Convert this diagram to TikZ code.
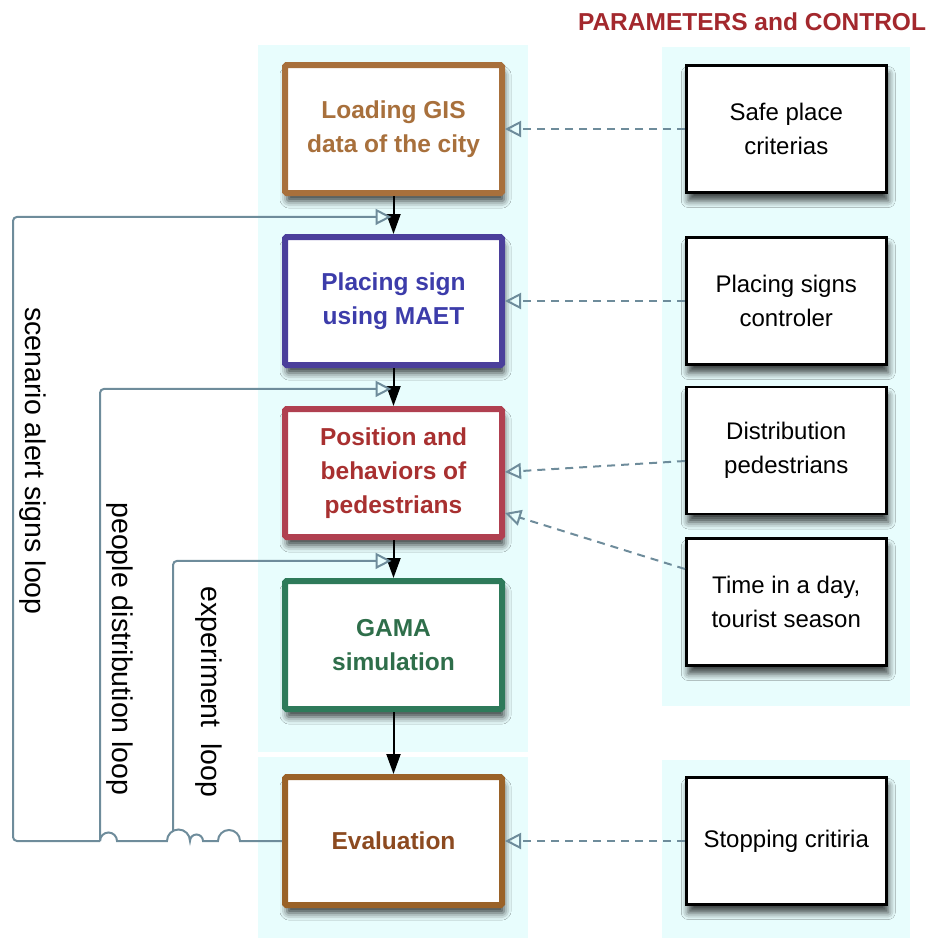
\documentclass[tikz,border=0pt]{standalone}
\usepackage{fontspec}
\setmainfont{Liberation Sans}
\usetikzlibrary{arrows.meta,positioning,calc,shadows.blur}
\definecolor{cload}{RGB}{168,112,60}
\definecolor{csign}{RGB}{75,63,155}
\definecolor{tsign}{RGB}{60,60,170}
\definecolor{cpos}{RGB}{176,64,80}
\definecolor{tpos}{RGB}{168,48,48}
\definecolor{cgama}{RGB}{46,122,90}
\definecolor{tgama}{RGB}{46,110,74}
\definecolor{ceval}{RGB}{154,98,40}
\definecolor{teval}{RGB}{140,74,32}
\definecolor{cline}{RGB}{110,140,155}
\definecolor{cpanel}{RGB}{232,253,253}
\definecolor{ctitle}{RGB}{163,40,45}
\tikzset{%
    >={Triangle[length=20pt,width=14pt]},
    every node/.style={font=\fontsize{24}{34}\selectfont,align=center},
    shd/.style={blur shadow={shadow xshift=2pt,shadow yshift=-8pt,shadow blur radius=7pt,shadow opacity=75}},
    mainbox/.style={rectangle,rounded corners=1.5pt,line width=6pt,fill=white,shd,
        minimum width=217pt,minimum height=128pt,inner sep=0pt,
        font=\fontsize{24.5}{34}\selectfont\bfseries},
    parbox/.style={rectangle,line width=2.5pt,draw=black,fill=white,shd,
        minimum width=200pt,minimum height=127pt,inner sep=0pt},
    panel/.style={fill=cpanel},
    param/.style={cline,line width=2pt,dash pattern=on 8pt off 6pt,-{Triangle[open,length=16pt,width=16pt]}},
    lp/.style={cline,line width=2pt,-{Triangle[open,length=16pt,width=16pt]}},
    hop/.style={cline,line width=2pt},
    lbl/.style={rotate=-90,font=\fontsize{28.5}{34}\selectfont},
    rc/.style={rounded corners=4pt}
}

\begin{document}
\begin{tikzpicture}[x=1pt,y=1pt,node distance=38pt]
    \useasboundingbox (0,0) rectangle (931,-940);
    %%%%% panels
    \fill[panel] (258,-45) rectangle (528,-752);
    \fill[panel] (258,-757) rectangle (528,-938);
    \fill[panel] (662,-47) rectangle (910,-706);
    \fill[panel] (662,-760) rectangle (910,-938);
    \node [font=\fontsize{24.5}{28}\selectfont\bfseries,text=ctitle] (title) at (752,-22) {PARAMETERS and CONTROL};
    %%%%% main chain
    \node [mainbox,draw=cload,text=cload] (load) at (393.5,-129) {Loading GIS\\data of the city};
    \node [mainbox,draw=csign,text=tsign,below= of load] (sign) {Placing sign\\using MAET};
    \node [mainbox,draw=cpos,text=tpos,below= of sign] (pos) {Position and\\behaviors of\\pedestrians};
    \node [mainbox,draw=cgama,text=tgama,below= of pos] (gama) {GAMA\\simulation};
    \node [mainbox,draw=ceval,text=teval,below=62pt of gama] (eval) {Evaluation};
    %%%%% parameters and control
    \node [parbox,right=180pt of load] (safe) {Safe place\\criterias};
    \node [parbox,right=180pt of sign] (signctl) {Placing signs\\controler};
    \node [parbox,below=20pt of signctl] (dist) {Distribution\\pedestrians};
    \node [parbox,below=22pt of dist] (time) {Time in a day,\\tourist season};
    \node [parbox,right=180pt of eval] (stop) {Stopping critiria};
    %%%%% flow
    \draw[->,line width=2pt] (load) -- (sign);
    \draw[->,line width=2pt] (sign) -- (pos);
    \draw[->,line width=2pt] (pos) -- (gama);
    \draw[->,line width=2pt] (gama) -- (eval);
    \draw[param] (safe) -- (load);
    \draw[param] (signctl) -- (sign);
    \draw[param] ([yshift=-10.5pt]dist.west) -- ([yshift=1pt]pos.east);
    \draw[param] ([yshift=33pt]time.west) -- ([yshift=-40pt]pos.east);
    \draw[param] (stop) -- (eval);
    %%%%% loops
    \coordinate (j1) at ($(load.south)!.55!(sign.north)$);
    \coordinate (j2) at ($(sign.south)!.55!(pos.north)$);
    \coordinate (j3) at ($(pos.south)!.55!(gama.north)$);
    \coordinate (hp) at ($(eval.west)+(-182,0)$);
    \draw[hop] (eval.west) -- ++(-42,0) arc[start angle=0,end angle=180,radius=11]
        -- ++(-15,0) arc[start angle=0,end angle=180,radius=6.5]
        arc[start angle=0,end angle=180,radius=11.5]
        -- ++(-50,0) arc[start angle=0,end angle=180,radius=8.5];
    \draw[lp,rc] (hp) -- ++(-87,0) |- ([xshift=-2pt]j1);
    \draw[lp,rc] (hp) |- ([xshift=-2pt]j2);
    \draw[lp,rc] ($(hp)+(73,10)$) |- ([xshift=-2pt]j3);
    \node [lbl] (l-sc) at (33,-461) {scenario alert signs loop};
    \node [lbl] (l-pd) at (120,-649) {people distribution loop};
    \node [lbl] (l-ex) at (209,-692) {experiment\ \ loop};
\end{tikzpicture}
\end{document}
